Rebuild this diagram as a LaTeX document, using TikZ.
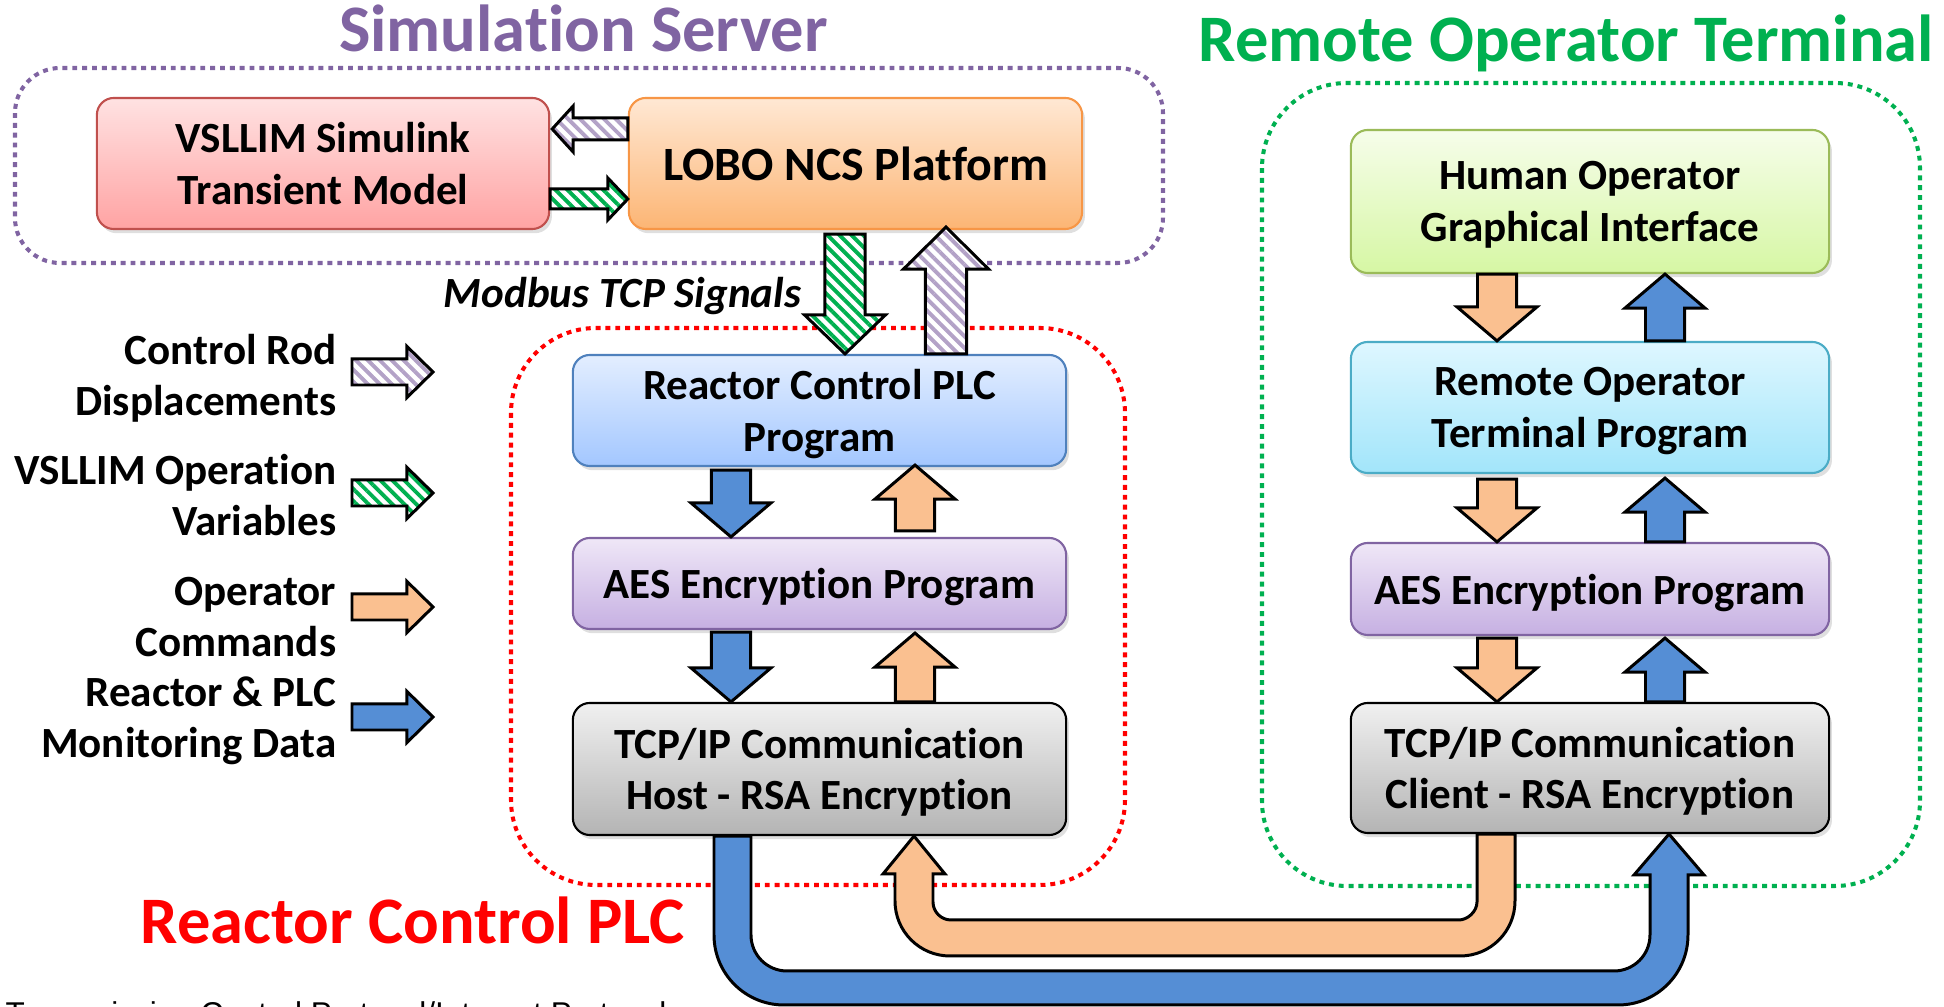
\documentclass[tikz,border=0pt]{standalone}
\usepackage{fontspec}
\setmainfont{Carlito}[Ligatures = NoCommon]
\newfontfamily\arialfont{Liberation Sans}
\usetikzlibrary{calc}
\usetikzlibrary{shadows}
\usetikzlibrary{patterns.meta}
\usetikzlibrary{positioning}
\definecolor{simpurple}{RGB}{128,100,162}
\definecolor{plcred}{RGB}{255,0,0}
\definecolor{rotgreen}{RGB}{0,176,80}
\definecolor{hatchpurple}{RGB}{179,162,199}
\definecolor{hatchgreen}{RGB}{0,176,80}
\definecolor{mblue}{RGB}{85,142,213}
\definecolor{morange}{RGB}{250,192,144}
\definecolor{vsltop}{HTML}{FFE2E2}
\definecolor{vslbot}{HTML}{FFA3A3}
\definecolor{vsledge}{HTML}{C0504D}
\definecolor{lobotop}{HTML}{FFE8D4}
\definecolor{lobobot}{HTML}{FCB574}
\definecolor{loboedge}{HTML}{F79646}
\definecolor{plctop}{HTML}{E3EEFF}
\definecolor{plcbot}{HTML}{A3C7FF}
\definecolor{plcedge}{HTML}{4F81BD}
\definecolor{aestop}{HTML}{EFE7F7}
\definecolor{aesbot}{HTML}{C6B0E2}
\definecolor{aesedge}{HTML}{8064A2}
\definecolor{tcptop}{HTML}{F0F0F0}
\definecolor{tcpbot}{HTML}{B4B4B4}
\definecolor{humtop}{HTML}{F6FDEA}
\definecolor{humbot}{HTML}{D6F7A4}
\definecolor{humedge}{HTML}{9BBB59}
\definecolor{remtop}{HTML}{DEF7FF}
\definecolor{rembot}{HTML}{A2E5FA}
\definecolor{remedge}{HTML}{4BACC6}
\newcommand{\boxfont}{\fontsize{12.25pt}{14.6pt}\selectfont\bfseries}
\newcommand{\titlefont}{\fontsize{18.9pt}{22pt}\selectfont\bfseries}
\newcommand{\nodp}[1]{\raisebox{0pt}[\height][0pt]{#1}}
\tikzset{prog/.style = {draw, line width = 0.6pt, rounded corners = 0.17cm, align = center, font = \boxfont, inner sep = 0,
    drop shadow = {shadow xshift = 0.8pt, shadow yshift = -1.2pt, opacity = 0.25}}}
\tikzset{vslbox/.style = {top color = vsltop, bottom color = vslbot, draw = vsledge}}
\tikzset{lobobox/.style = {top color = lobotop, bottom color = lobobot, draw = loboedge}}
\tikzset{plcbox/.style = {top color = plctop, bottom color = plcbot, draw = plcedge}}
\tikzset{aesbox/.style = {top color = aestop, bottom color = aesbot, draw = aesedge}}
\tikzset{tcpbox/.style = {top color = tcptop, bottom color = tcpbot, draw = black}}
\tikzset{humanbox/.style = {top color = humtop, bottom color = humbot, draw = humedge}}
\tikzset{remotebox/.style = {top color = remtop, bottom color = rembot, draw = remedge}}
\tikzset{groupframe/.style = {line width = 1.15pt, dash pattern = on 1.4pt off 1.4pt}}
\tikzset{grouptitle/.style = {font = \titlefont, anchor = base, inner sep = 0}}
\tikzset{legendtext/.style = {font = \boxfont, align = right, anchor = east, inner sep = 0}}
\tikzset{barrow/.style = {draw = black, line width = 0.85pt, line join = miter}}
\tikzset{bluearr/.style = {barrow, fill = mblue}}
\tikzset{orangearr/.style = {barrow, fill = morange}}
\tikzset{purplehatch/.style = {barrow, preaction = {fill = white},
    pattern = {Lines[angle = -45, distance = 2.4pt, line width = 1.1pt]}, pattern color = hatchpurple}}
\tikzset{greenhatch/.style = {barrow, preaction = {fill = white},
    pattern = {Lines[angle = -45, distance = 2.4pt, line width = 1.1pt]}, pattern color = hatchgreen}}
% block arrow: style, from, to, half shaft, half head, head length
\newcommand{\blockarrow}[6]{
  \coordinate (ba) at #2;
  \coordinate (bb) at #3;
  \coordinate (bh) at ($(bb)!#6!(ba)$);
  \draw [#1] ($(ba)!#4!90:(bb)$) -- ($(bh)!#4!90:(bb)$) -- ($(bh)!#5!90:(bb)$) -- (bb)
    -- ($(bh)!#5!-90:(bb)$) -- ($(bh)!#4!-90:(bb)$) -- ($(ba)!#4!-90:(bb)$) -- cycle;
}
\newcommand{\mainarrow}[3]{\blockarrow{#1}{#2}{#3}{0.195cm}{0.40cm}{0.34cm}}

\begin{document}
\begin{tikzpicture}[x = 0.01cm, y = -0.01cm]
  \useasboundingbox (0, 0) rectangle (1944, 1007);

  \draw [groupframe, draw = simpurple, rounded corners = 0.45cm] (15, 68) rectangle (1163, 263);
  \draw [groupframe, draw = plcred, rounded corners = 0.85cm] (511, 328) rectangle (1125, 885);
  \draw [groupframe, draw = rotgreen, rounded corners = 0.85cm] (1262, 83) rectangle (1920, 886);

  \node [grouptitle, text = simpurple] (simtitle) at (583.5, 52) {Simulation Server};
  \node [grouptitle, text = rotgreen] (rottitle) at (1566.5, 62) {Remote Operator Terminal};
  \node [grouptitle, text = plcred] (plctitle) at (413, 944) {Reactor Control PLC};

  \node [prog, vslbox, minimum width = 4.52cm, minimum height = 1.31cm] (vsl) at (323, 163.5) {VSLLIM Simulink\\Transient Model};
  \node [prog, lobobox, minimum width = 4.53cm, minimum height = 1.31cm, font = \fontsize{13.6pt}{16pt}\selectfont\bfseries] (lobo) at (855.5, 163.5) {LOBO NCS Platform};
  \node [prog, plcbox, minimum width = 4.93cm, minimum height = 1.11cm] (plc) at (819.5, 410.5) {Reactor Control PLC\\\nodp{Program}};
  \node [prog, aesbox, minimum width = 4.93cm, minimum height = 0.91cm] (aesl) at (819.5, 583.5) {\nodp{AES Encryption Program}};
  \node [prog, tcpbox, minimum width = 4.93cm, minimum height = 1.32cm] (host) at (819.5, 769) {TCP/IP Communication\\\nodp{Host - RSA Encryption}};
  \node [prog, humanbox, minimum width = 4.78cm, minimum height = 1.43cm] (human) at (1590, 201.5) {Human Operator\\\nodp{Graphical Interface}};
  \node [prog, remotebox, minimum width = 4.78cm, minimum height = 1.31cm] (remote) at (1590, 407.5) {Remote Operator\\\nodp{Terminal Program}};
  \node [prog, aesbox, minimum width = 4.78cm, minimum height = 0.92cm] (aesr) at (1590, 589) {\nodp{AES Encryption Program}};
  \node [prog, tcpbox, minimum width = 4.78cm, minimum height = 1.30cm] (client) at (1590, 768) {TCP/IP Communication\\\nodp{Client - RSA Encryption}};

  \node [font = \boxfont\itshape, anchor = base east, inner sep = 0] (modbus) at (802, 308) {Modbus TCP Signals};

  \node [legendtext] (lgrod) at (337, 378) {Control Rod\\Displacements};
  \node [legendtext] (lgvar) at (337, 495) {VSLLIM Operation\\Variables};
  \node [legendtext] (lgcmd) at (337, 617) {Operator\\Commands};
  \node [legendtext] (lgmon) at (337, 721) {Reactor \& PLC\\Monitoring Data};

  \node [font = {\arialfont\fontsize{8.96pt}{10pt}\selectfont}, anchor = base west, inner sep = 0] (tcpip) at (5, 1025) {Transmission Control Protocol/Internet Protocol};

  \coordinate (lcd) at (731, 0);
  \coordinate (lcu) at (915, 0);
  \coordinate (rcd) at (1497, 0);
  \coordinate (rcu) at (1665, 0);
  \coordinate (gcol) at (845, 0);
  \coordinate (pcol) at (946, 0);
  \coordinate (row1) at (0, 129);
  \coordinate (row2) at (0, 199);

  \blockarrow{purplehatch}{(lobo.west |- row1)}{($(vsl.east |- row1)+(2, 0)$)}{0.11cm}{0.23cm}{0.21cm}
  \blockarrow{greenhatch}{(vsl.east |- row2)}{(lobo.west |- row2)}{0.10cm}{0.21cm}{0.20cm}
  \blockarrow{greenhatch}{($(lobo.south -| gcol)+(0, 4)$)}{(plc.north -| gcol)}{0.2cm}{0.405cm}{0.39cm}
  \blockarrow{purplehatch}{(plc.north -| pcol)}{($(lobo.south -| pcol)+(0, -3)$)}{0.205cm}{0.425cm}{0.42cm}

  \mainarrow{bluearr}{($(plc.south -| lcd)+(0, 3)$)}{(aesl.north -| lcd)}
  \mainarrow{orangearr}{($(aesl.north -| lcu)+(0, -6)$)}{($(plc.south -| lcu)+(0, -2)$)}
  \mainarrow{bluearr}{($(aesl.south -| lcd)+(0, 2)$)}{(host.north -| lcd)}
  \mainarrow{orangearr}{(host.north -| lcu)}{($(aesl.south -| lcu)+(0, 3)$)}
  \mainarrow{orangearr}{(human.south -| rcd)}{(remote.north -| rcd)}
  \mainarrow{bluearr}{(remote.north -| rcu)}{(human.south -| rcu)}
  \mainarrow{orangearr}{($(remote.south -| rcd)+(0, 5)$)}{(aesr.north -| rcd)}
  \mainarrow{bluearr}{(aesr.north -| rcu)}{($(remote.south -| rcu)+(0, 4)$)}
  \mainarrow{orangearr}{($(aesr.south -| rcd)+(0, 2)$)}{(client.north -| rcd)}
  \mainarrow{bluearr}{(client.north -| rcu)}{($(aesr.south -| rcu)+(0, 2)$)}

  \blockarrow{purplehatch}{(352, 372)}{(433, 372)}{0.13cm}{0.255cm}{0.26cm}
  \blockarrow{greenhatch}{(352, 493)}{(433, 493)}{0.13cm}{0.255cm}{0.26cm}
  \blockarrow{orangearr}{(352, 607)}{(433, 607)}{0.13cm}{0.255cm}{0.26cm}
  \blockarrow{bluearr}{(352, 717)}{(433, 717)}{0.13cm}{0.255cm}{0.26cm}

  % u-turn links between host and client
  \coordinate (ubl) at (714, 0);
  \coordinate (ubi) at (751, 0);
  \coordinate (ubt) at (1669, 0);
  \draw [bluearr] (host.south -| ubl) -- (714, 935) .. controls (714, 973.7) and (745.3, 1005) .. (784, 1005)
    -- (1618, 1005) .. controls (1656.7, 1005) and (1688, 973.7) .. (1688, 935)
    -- (1688, 875) -- (1704, 875) -- (client.south -| ubt) -- (1634, 875) -- (1650, 875)
    -- (1650, 935) .. controls (1650, 954.9) and (1633.9, 971) .. (1614, 971)
    -- (787, 971) .. controls (767.1, 971) and (751, 954.9) .. (751, 935)
    -- (host.south -| ubi) -- cycle;
  \coordinate (uor) at (1515, 0);
  \coordinate (uoi) at (1477, 0);
  \coordinate (uot) at (914, 0);
  \draw [orangearr] (client.south -| uor) -- (1515, 901) .. controls (1515, 931.4) and (1490.6, 956) .. (1460, 956)
    -- (950, 956) .. controls (919.6, 956) and (895, 931.4) .. (895, 901)
    -- (895, 874) -- (883, 874) -- (host.south -| uot) -- (945, 874) -- (933, 874)
    -- (933, 902) .. controls (933, 911.9) and (941.1, 920) .. (951, 920)
    -- (1459, 920) .. controls (1467.1, 920) and (1477, 911.9) .. (1477, 902)
    -- (client.south -| uoi) -- cycle;
\end{tikzpicture}
\end{document}
